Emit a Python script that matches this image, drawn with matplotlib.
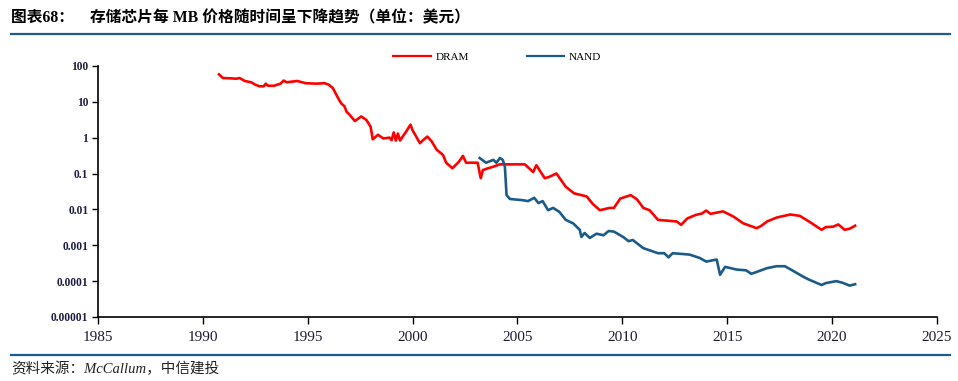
import matplotlib.pyplot as plt
from matplotlib.lines import Line2D

# DRAM price per MB (USD)
dram_year = [1990.77, 1990.95, 1991.3, 1991.6, 1991.75, 1992.0, 1992.3, 1992.5, 1992.7, 1992.9,
             1993.0, 1993.1, 1993.4, 1993.7, 1993.85, 1994.0, 1994.5, 1994.9, 1995.4, 1995.8,
             1996.0, 1996.2, 1996.45, 1996.6, 1996.75, 1996.85, 1997.0, 1997.25, 1997.55, 1997.8,
             1998.0, 1998.1, 1998.35, 1998.6, 1998.9, 1999.0, 1999.1, 1999.2, 1999.3, 1999.4,
             1999.7, 1999.9, 2000.0, 2000.2, 2000.35, 2000.5, 2000.7, 2000.9, 2001.15, 2001.45,
             2001.6, 2001.9, 2002.2, 2002.4, 2002.55, 2003.1, 2003.25, 2003.35, 2003.6, 2003.85,
             2004.16, 2005.35, 2005.75, 2005.9, 2006.3, 2006.5, 2006.86, 2007.3, 2007.7, 2008.3,
             2008.6, 2008.93, 2009.4, 2009.6, 2009.9, 2010.4, 2010.7, 2011.0, 2011.3, 2011.7,
             2012.6, 2012.8, 2013.1, 2013.5, 2013.8, 2014.0, 2014.2, 2014.8, 2015.3, 2015.76,
             2016.4, 2016.6, 2016.9, 2017.35, 2018.0, 2018.46, 2018.9, 2019.5, 2019.7, 2020.05,
             2020.3, 2020.6, 2020.84, 2021.1]
dram_price = [58, 46, 45, 44, 46, 38, 35, 30, 27, 27,
              32, 28, 28, 32, 39, 35, 38, 33, 32, 33,
              30, 24, 12.6, 9, 7.5, 5.3, 4.3, 2.9, 3.9, 3.1,
              2.0, 0.9, 1.2, 0.95, 1.0, 0.85, 1.4, 0.83, 1.3, 0.83,
              1.5, 2.3, 1.6, 1.0, 0.7, 0.85, 1.07, 0.8, 0.46, 0.33,
              0.2, 0.14, 0.21, 0.31, 0.2, 0.2, 0.074, 0.125, 0.14, 0.155,
              0.18, 0.18, 0.11, 0.17, 0.074, 0.08, 0.1, 0.043, 0.028, 0.023,
              0.014, 0.0095, 0.011, 0.011, 0.02, 0.025, 0.019, 0.011, 0.0095, 0.0051,
              0.0046, 0.0037, 0.0056, 0.007, 0.0077, 0.0093, 0.0075, 0.0088, 0.0063, 0.0041,
              0.003, 0.0034, 0.0046, 0.0059, 0.0072, 0.0066, 0.0046, 0.0027, 0.0032, 0.0033,
              0.0038, 0.0027, 0.0029, 0.0035]

# NAND price per MB (USD)
nand_year = [2003.2, 2003.5, 2003.85, 2004.0, 2004.16, 2004.3, 2004.4, 2004.48, 2004.64, 2005.27,
             2005.5, 2005.8, 2006.0, 2006.2, 2006.46, 2006.7, 2007.0, 2007.3, 2007.65, 2007.97,
             2008.05, 2008.2, 2008.45, 2008.77, 2009.1, 2009.35, 2009.6, 2010.04, 2010.3, 2010.5,
             2011.0, 2011.7, 2012.0, 2012.2, 2012.4, 2013.2, 2013.7, 2014.0, 2014.5, 2014.66,
             2014.9, 2015.45, 2015.9, 2016.15, 2016.4, 2016.9, 2017.35, 2017.75, 2018.1, 2018.6,
             2018.9, 2019.5, 2019.7, 2020.2, 2020.5, 2020.84, 2021.1]
nand_price = [0.27, 0.2, 0.24, 0.2, 0.27, 0.24, 0.155, 0.025, 0.0195, 0.018,
              0.017, 0.021, 0.015, 0.017, 0.0095, 0.011, 0.0085, 0.0051, 0.0041, 0.0027,
              0.0017, 0.0022, 0.0016, 0.0021, 0.0019, 0.0025, 0.0024, 0.0017, 0.0013, 0.0014,
              0.00083, 0.0006, 0.0006, 0.00046, 0.0006, 0.00055, 0.00044, 0.00035, 0.0004, 0.00015,
              0.00025, 0.00021, 0.0002, 0.00016, 0.00018, 0.00023, 0.00026, 0.00026, 0.0002, 0.000135,
              0.00011, 0.000078, 0.000088, 0.0001, 0.00009, 0.000075, 0.000082]

y_ticks = [1e-5, 1e-4, 1e-3, 1e-2, 1e-1, 1, 10, 100]
y_labels = ["0.00001", "0.0001", "0.001", "0.01", "0.1", "1", "10", "100"]
x_ticks = [1985, 1990, 1995, 2000, 2005, 2010, 2015, 2020, 2025]

title = "图表68：    存储芯片每 MB 价格随时间呈下降趋势（单位：美元）"
source = "资料来源：McCallum，中信建投"

serif_cjk = ["Liberation Serif", "Noto Sans CJK SC"]
red = "#ff0000"
blue = "#1b5b89"
line_blue = "#1f5a8c"

fig = plt.figure(figsize=(9.58, 3.81), dpi=100)
ax = fig.add_axes([0.1023, 0.168, 0.8757, 0.659])

ax.plot(dram_year, dram_price, color=red, lw=1.9, label="DRAM")
ax.plot(nand_year, nand_price, color=blue, lw=1.9, label="NAND")

ax.set_yscale("log")
ax.set_ylim(1e-5, 100)
ax.set_xlim(1985, 2025)
ax.set_yticks(y_ticks)
ax.set_yticklabels(y_labels)
ax.minorticks_off()
ax.set_xticks(x_ticks)
ax.set_xticklabels([str(x) for x in x_ticks])

for s in ["top", "right"]:
    ax.spines[s].set_visible(False)
for s in ["left", "bottom"]:
    ax.spines[s].set_linewidth(1.2)
    ax.spines[s].set_color("black")
ax.tick_params(axis="y", length=4, width=1, labelsize=8.3, labelcolor="#1c1c40", pad=3)
ax.tick_params(axis="x", length=5, width=1, labelsize=11, labelcolor="#1c1c30", pad=5)
for lab in ax.get_yticklabels():
    lab.set_fontweight("bold")
    lab.set_family("Liberation Serif")
for lab in ax.get_xticklabels():
    lab.set_family("Liberation Serif")

leg = ax.legend(loc="lower center", bbox_to_anchor=(0.476, 0.975), ncol=2, frameon=False,
                prop={"family": "Liberation Serif", "size": 8}, handlelength=3.4,
                columnspacing=5.2, handletextpad=0.4)
for h in leg.get_lines():
    h.set_linewidth(1.6)

# title and source with rules
fig.text(0.012, 0.952, title, fontsize=11.3, fontweight="bold", family=serif_cjk,
         va="center", ha="left", color="black")
fig.add_artist(Line2D([0.011, 0.992], [0.912, 0.912], color=line_blue, lw=1.6))
fig.add_artist(Line2D([0.011, 0.992], [0.068, 0.068], color=line_blue, lw=1.6))
fig.text(0.012, 0.033, source, fontsize=10.5, style="italic", family=serif_cjk,
         va="center", ha="left", color="#222222")

fig.savefig("out.png", dpi=100)
